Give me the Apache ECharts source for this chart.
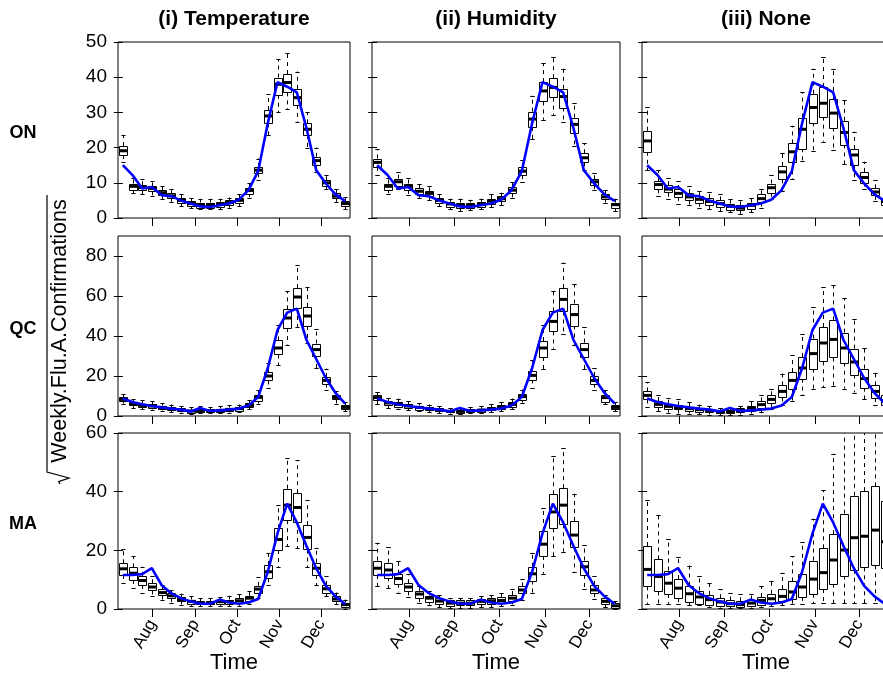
<!DOCTYPE html>
<html>
<head>
<meta charset="utf-8">
<script src="https://cdn.jsdelivr.net/npm/echarts@6/dist/echarts.min.js"></script>
<style>
html,body{margin:0;padding:0;background:#fff;}
#chart{width:883px;height:679px;}
</style>
</head>
<body>
<div id="chart"></div>
<script>
// ---------------- DATA ----------------
const weekIndex = [0,1,2,3,4,5,6,7,8,9,10,11,12,13,14,15,16,17,18,19,20,21,22,23];
const monthTickPos = [3.07, 7.5, 11.79, 16.22, 20.51];
const monthLabels = ['Aug', 'Sep', 'Oct', 'Nov', 'Dec'];
const rowNames = ['ON', 'QC', 'MA'];
const colTitles = ['(i) Temperature', '(ii) Humidity', '(iii) None'];
const yTicks = [[0,10,20,30,40,50], [0,20,40,60,80], [0,20,40,60]];
const yMax = [50, 90, 60];

// observed (blue line) per row
const ON_obs = [15.0,12.2,8.4,8.8,6.5,6.2,5.0,4.1,3.3,3.1,3.6,4.1,5.2,7.9,13.3,27.0,38.6,37.3,35.7,25.5,13.6,9.8,6.7,4.8];
const QC_obs = [8.7,7.0,5.9,5.0,4.3,3.7,3.2,2.3,4.0,2.5,2.8,3.2,3.7,5.3,9.5,24.0,43.0,51.7,53.7,38.0,28.5,19.0,11.5,6.2];
const MA_obs = [11.6,11.6,11.9,13.9,8.2,5.4,3.7,2.6,1.8,1.8,3.2,2.2,1.8,2.2,3.4,12.7,25.8,35.9,29.5,21.5,13.9,7.9,4.3,1.7];

// boxes: [lower whisker, Q1, median, Q3, upper whisker]
const ON_temp = [[16.0,17.9,19.1,20.4,23.6],[7.0,8.2,9.0,9.8,11.4],[6.7,7.9,8.7,9.3,11.0],[6.3,7.6,8.4,9.0,10.5],[5.3,6.5,7.2,7.9,9.1],[4.6,5.5,6.3,7.0,8.2],[3.4,4.4,5.0,5.7,6.7],[2.7,3.4,4.1,4.8,5.7],[2.5,3.1,3.8,4.4,5.5],[2.5,3.1,3.8,4.4,5.5],[2.5,3.2,3.9,4.6,5.5],[2.9,3.6,4.4,5.0,5.8],[3.4,4.4,5.0,5.7,6.7],[5.8,7.0,7.8,8.6,10.0],[10.7,12.7,13.6,14.5,16.9],[23.6,26.9,29.0,30.7,35.2],[30.0,35.0,38.0,39.9,45.2],[31.0,35.7,38.5,40.9,46.9],[27.4,32.1,34.2,36.7,41.6],[19.8,23.6,25.2,26.9,30.0],[13.1,15.2,16.3,17.4,20.0],[8.2,9.1,10.0,10.7,12.2],[4.6,5.5,6.2,7.0,8.2],[2.5,3.4,4.1,4.8,5.9]];
const ON_hum = [[12.2,14.5,15.8,16.9,19.5],[6.7,8.2,9.0,9.8,11.4],[8.2,9.3,10.3,11.2,13.1],[6.5,8.0,9.0,9.8,11.4],[5.7,6.8,7.6,8.4,9.8],[5.0,6.2,7.0,7.6,9.1],[3.4,4.4,5.0,5.7,6.8],[2.5,3.1,4.0,4.6,5.5],[2.0,2.9,3.6,4.4,5.5],[2.2,2.9,3.6,4.4,5.2],[2.5,3.1,4.0,4.6,5.5],[3.1,3.9,4.8,5.4,6.8],[3.6,4.8,5.5,6.2,7.2],[5.7,7.0,7.9,8.8,10.3],[10.3,12.2,13.3,14.5,16.4],[22.4,25.9,28.1,30.2,34.8],[27.9,33.1,36.1,38.6,44.0],[29.3,34.2,37.1,39.7,45.6],[27.2,31.4,34.5,36.7,42.4],[20.5,24.3,26.6,28.5,32.6],[13.6,15.8,17.1,18.4,21.2],[7.9,9.3,10.3,11.0,12.7],[4.4,5.3,6.0,6.8,8.0],[2.0,2.9,3.8,4.4,5.5]];
const ON_none = [[13.6,18.8,21.9,24.8,31.4],[6.3,8.2,9.5,10.5,13.6],[5.3,7.2,8.2,9.3,11.4],[4.1,6.0,7.0,8.2,10.5],[3.6,5.0,6.0,7.1,9.1],[2.9,4.3,5.3,6.2,7.6],[2.5,3.6,4.7,5.7,7.4],[2.0,3.1,4.1,5.0,6.7],[1.7,2.5,3.3,4.1,5.5],[1.1,2.3,2.8,3.6,5.0],[1.7,2.8,3.6,4.4,5.7],[2.9,4.4,5.5,6.7,8.2],[5.3,7.2,8.6,9.8,12.2],[7.6,11.0,13.1,14.8,18.4],[11.0,15.8,18.8,21.2,26.2],[16.2,19.8,25.2,28.5,35.7],[19.0,27.2,31.4,35.3,42.4],[21.7,28.8,32.6,37.2,45.6],[19.3,25.7,29.8,33.8,42.4],[15.2,20.9,24.3,27.6,33.6],[10.7,15.0,17.9,19.6,24.5],[8.2,10.1,11.5,13.1,16.0],[4.8,6.3,7.4,8.4,10.7],[2.3,3.6,4.7,5.4,7.4]];

const QC_temp = [[6.2,7.3,8.3,9.3,10.8],[4.0,5.3,6.2,7.0,8.3],[3.3,4.5,5.3,6.2,7.8],[3.2,4.0,5.0,5.8,7.3],[2.7,3.5,4.3,5.2,6.5],[2.0,2.8,3.7,4.3,5.7],[1.7,2.3,3.2,3.8,5.0],[1.2,1.7,2.5,3.2,4.5],[1.5,2.0,2.8,3.7,5.0],[1.3,1.8,2.7,3.5,4.5],[1.5,2.0,2.8,3.7,4.8],[1.7,2.5,3.3,4.2,5.3],[2.0,2.7,3.7,4.5,5.7],[3.3,4.5,5.3,6.5,7.8],[6.2,7.8,9.3,10.7,12.8],[14.0,17.8,20.0,22.0,26.7],[25.3,30.7,34.0,37.8,45.3],[35.7,44.0,49.0,53.3,62.3],[44.5,54.0,59.5,64.0,75.7],[36.7,45.0,50.0,54.5,64.5],[24.0,30.0,33.2,36.2,43.3],[12.8,16.2,17.8,19.5,23.7],[6.2,8.3,9.3,10.3,12.3],[2.3,3.3,4.3,5.3,7.0]];
const QC_hum = [[5.8,7.8,9.2,10.3,12.0],[4.0,5.3,6.5,7.3,9.0],[3.7,4.7,5.8,7.0,8.7],[2.8,4.0,5.0,5.8,7.3],[2.3,3.3,4.3,5.2,6.5],[1.8,2.8,3.7,4.3,5.7],[1.5,2.3,3.2,3.8,5.0],[1.2,1.7,2.3,2.8,4.0],[1.0,1.7,2.3,3.0,4.0],[1.5,2.0,2.7,3.3,4.5],[1.5,2.0,3.0,3.7,5.0],[1.8,2.8,3.7,4.5,5.8],[2.3,3.3,4.3,5.3,6.8],[3.3,4.7,5.8,7.0,8.7],[6.7,8.3,9.7,11.2,13.2],[14.2,18.3,20.3,22.7,27.8],[23.3,29.5,34.0,37.5,45.3],[33.7,42.3,47.3,52.3,62.3],[41.2,52.3,58.3,64.0,76.7],[35.3,45.3,50.7,56.2,65.8],[23.3,29.5,33.2,36.7,44.5],[12.8,16.2,17.8,20.0,24.0],[6.0,7.3,9.2,10.7,12.8],[2.3,3.3,4.3,5.3,7.0]];
const QC_none = [[4.5,8.3,10.3,12.3,17.0],[2.5,4.5,5.8,7.5,10.7],[1.7,3.7,4.8,6.2,9.2],[1.2,3.2,4.2,5.3,8.3],[1.2,2.7,3.7,4.7,6.8],[0.8,2.3,3.2,3.7,5.7],[0.7,2.0,2.8,3.3,5.0],[0.5,1.2,2.0,2.8,4.0],[0.5,1.2,2.0,2.8,4.0],[0.7,1.8,2.8,3.8,5.0],[1.2,2.7,3.8,5.0,7.3],[2.0,4.0,5.7,7.3,10.3],[3.3,6.2,8.3,10.3,13.7],[5.3,9.2,12.3,15.3,21.2],[7.3,13.7,17.8,22.0,30.3],[10.3,18.7,24.0,29.5,41.2],[13.3,23.7,31.2,38.7,54.5],[14.5,27.3,36.5,44.5,64.5],[15.0,29.2,38.3,47.8,65.3],[13.7,26.7,34.0,41.7,59.0],[11.7,20.7,27.0,33.7,48.7],[8.3,14.2,18.7,23.7,34.0],[5.3,9.0,12.3,15.3,21.5],[2.8,5.3,7.8,10.3,13.7]];

const MA_temp = [[8.8,11.6,13.7,15.6,20.3],[7.1,9.9,12.2,14.2,18.1],[5.6,8.2,9.7,11.3,14.4],[4.3,6.3,7.5,8.8,11.1],[3.2,4.6,5.6,6.8,8.2],[2.2,3.7,4.5,5.4,6.5],[1.5,2.6,3.2,4.1,5.2],[1.1,1.9,2.6,3.2,4.3],[0.9,1.7,2.1,2.7,3.7],[0.9,1.7,2.1,2.7,3.7],[1.1,2.0,2.5,3.2,4.1],[0.9,1.8,2.5,3.2,4.5],[1.1,2.0,2.8,3.7,5.2],[1.8,2.9,3.7,4.5,6.0],[3.7,5.4,6.8,7.9,10.8],[8.2,10.5,12.7,15.0,19.2],[14.4,20.1,23.7,27.5,35.4],[21.5,30.3,35.4,41.0,51.5],[20.7,29.7,34.6,39.5,50.8],[14.2,20.3,24.4,28.6,37.1],[8.2,11.6,13.9,15.8,20.7],[4.3,5.6,6.9,8.2,11.1],[1.8,2.6,3.4,4.3,5.6],[0.0,0.7,1.5,2.2,3.2]];
const MA_hum = [[7.7,11.6,13.9,16.5,22.6],[7.1,10.8,13.3,15.8,21.0],[5.6,8.6,10.4,12.0,16.5],[4.1,6.0,7.5,8.8,12.0],[2.2,3.7,5.1,6.2,7.9],[1.5,2.6,3.7,4.6,6.0],[0.7,1.7,2.7,3.7,4.8],[0.3,1.1,2.0,3.2,3.7],[0.3,1.1,2.0,2.9,3.7],[0.3,1.1,2.0,2.9,3.7],[0.7,1.8,2.6,3.4,4.3],[0.7,1.8,2.8,3.7,4.8],[0.9,2.0,2.9,4.1,5.4],[1.5,2.6,3.7,4.8,6.9],[3.2,5.4,6.5,7.7,10.2],[5.4,9.7,12.0,14.4,19.2],[12.0,18.1,22.1,26.6,34.6],[18.1,27.5,33.1,39.1,52.3],[19.5,28.9,35.4,41.2,54.9],[12.7,21.0,25.2,30.0,39.3],[6.8,11.6,14.4,16.5,21.8],[3.4,5.4,6.5,8.2,11.1],[0.7,1.5,2.6,3.7,4.8],[0.0,0.3,1.1,2.0,2.6]];
const MA_none = [[1.8,7.7,13.5,21.5,37.1],[1.8,6.0,11.1,16.9,32.0],[1.8,5.1,8.8,13.1,23.8],[1.6,3.7,7.1,10.2,17.8],[1.4,2.6,5.2,8.0,14.8],[1.2,2.0,4.1,6.3,11.1],[0.8,1.5,3.2,4.8,8.8],[0.5,1.1,2.4,3.7,6.8],[0.3,0.7,1.8,2.9,5.4],[0.3,0.7,1.5,2.6,5.2],[0.5,1.1,2.0,3.2,5.2],[0.8,1.3,2.9,4.1,7.7],[1.0,2.0,3.5,5.2,9.7],[1.3,2.6,4.3,6.8,12.4],[1.6,3.2,5.8,9.4,18.1],[1.6,4.1,7.5,12.0,22.9],[1.9,5.2,10.2,16.5,30.8],[1.9,6.8,12.4,20.7,40.4],[1.9,8.6,16.7,25.5,52.9],[1.9,11.4,20.1,32.5,66.0],[1.9,13.4,24.3,38.6,70.0],[2.0,14.2,24.8,40.2,68.0],[2.2,14.9,26.9,41.8,72.0],[2.2,13.8,22.9,36.8,65.0]];

const obsByRow = [ON_obs, QC_obs, MA_obs];
const boxesByPanel = [[ON_temp, ON_hum, ON_none], [QC_temp, QC_hum, QC_none], [MA_temp, MA_hum, MA_none]];

// ---------------- LAYOUT ----------------
const FONT = '"Liberation Sans", Arial, Helvetica, sans-serif';
const colLeft = [118, 372, 642];
const colWidth = [232, 248, 248];
const rowTop = [42, 236, 433];
const rowHeight = [176, 180, 176];

function renderBox(params, api) {
  const x = api.value(0);
  const lo = api.value(1), q1 = api.value(2), md = api.value(3), q3 = api.value(4), hi = api.value(5);
  const cs = params.coordSys;
  const yTop = cs.y, yBot = cs.y + cs.height;
  const clampY = (y) => Math.max(yTop, Math.min(yBot, y));
  const band = api.size([1, 0])[0];
  const bw = band * 0.8;
  const cx = Math.round(api.coord([x, md])[0]) + 0.5;
  const yLo = api.coord([x, lo])[1];
  const yQ1 = api.coord([x, q1])[1];
  const yMd = api.coord([x, md])[1];
  const yQ3 = api.coord([x, q3])[1];
  const yHi = api.coord([x, hi])[1];
  const dash = { stroke: '#000', lineWidth: 1, lineDash: [4, 4] };
  const solid = { stroke: '#000', lineWidth: 1 };
  const cw = bw * 0.27;
  const children = [];
  children.push({ type: 'line', shape: { x1: cx, y1: yQ3, x2: cx, y2: clampY(yHi) }, style: dash });
  children.push({ type: 'line', shape: { x1: cx, y1: yQ1, x2: cx, y2: clampY(yLo) }, style: dash });
  if (yHi >= yTop) children.push({ type: 'line', shape: { x1: cx - cw, y1: Math.round(yHi) + 0.5, x2: cx + cw, y2: Math.round(yHi) + 0.5 }, style: solid });
  if (yLo <= yBot) children.push({ type: 'line', shape: { x1: cx - cw, y1: Math.round(yLo) + 0.5, x2: cx + cw, y2: Math.round(yLo) + 0.5 }, style: solid });
  const top = clampY(yQ3);
  const half = Math.round(bw / 2);
  children.push({ type: 'rect', shape: { x: cx - half, y: Math.round(top) + 0.5, width: half * 2, height: Math.round(clampY(yQ1) - top) }, style: { fill: '#fff', stroke: '#000', lineWidth: 1 } });
  children.push({ type: 'line', shape: { x1: cx - half, y1: yMd, x2: cx + half, y2: yMd }, style: { stroke: '#000', lineWidth: 3 } });
  return { type: 'group', children };
}

const grids = [], xAxes = [], yAxes = [], series = [];
for (let r = 0; r < 3; r++) {
  for (let c = 0; c < 3; c++) {
    const gi = r * 3 + c;
    grids.push({ left: colLeft[c], top: rowTop[r], width: colWidth[c], height: rowHeight[r], show: true, borderColor: '#000', borderWidth: 1, backgroundColor: 'transparent', containLabel: false, outerBoundsMode: 'none' });
    xAxes.push({
      gridIndex: gi, type: 'value', min: -0.5, max: 23.5,
      axisLine: { show: false }, splitLine: { show: false },
      axisTick: { show: true, length: 8, lineStyle: { color: '#000', width: 1 }, customValues: monthTickPos },
      axisLabel: {
        show: r === 2, customValues: monthTickPos, rotate: 60, margin: 12,
        fontSize: 17, color: '#000', fontFamily: FONT,
        formatter: (v) => { const k = monthTickPos.findIndex(p => Math.abs(p - v) < 1e-6); return k >= 0 ? monthLabels[k] : ''; }
      }
    });
    yAxes.push({
      gridIndex: gi, type: 'value', min: 0, max: yMax[r],
      axisLine: { show: false }, splitLine: { show: false },
      axisTick: { show: true, length: 9, lineStyle: { color: '#000', width: 1 }, customValues: yTicks[r] },
      axisLabel: { show: c === 0, customValues: yTicks[r], margin: 11, fontSize: 19, color: '#000', fontFamily: FONT }
    });
    series.push({
      type: 'custom', xAxisIndex: gi, yAxisIndex: gi, renderItem: renderBox, silent: true, z: 2,
      encode: { x: 0, y: [1, 2, 3, 4, 5] },
      data: boxesByPanel[r][c].map((b, i) => [weekIndex[i]].concat(b))
    });
    series.push({
      type: 'line', xAxisIndex: gi, yAxisIndex: gi, silent: true, z: 5, symbol: 'none', showSymbol: false,
      lineStyle: { color: '#0000ff', width: 2.6 },
      data: obsByRow[r].map((v, i) => [weekIndex[i], v])
    });
  }
}

const graphics = [];
for (let c = 0; c < 3; c++) {
  const cx = colLeft[c] + colWidth[c] / 2;
  graphics.push({ type: 'text', x: cx, y: 19, style: { text: colTitles[c], font: 'bold 21px ' + FONT, fill: '#000', align: 'center', verticalAlign: 'middle' } });
  graphics.push({ type: 'text', x: cx, y: 663, style: { text: 'Time', font: '22px ' + FONT, fill: '#000', align: 'center', verticalAlign: 'middle' } });
}
for (let r = 0; r < 3; r++) {
  graphics.push({ type: 'text', x: 23, y: rowTop[r] + rowHeight[r] / 2 + 3, style: { text: rowNames[r], font: 'bold 18px ' + FONT, fill: '#000', align: 'center', verticalAlign: 'middle' } });
}
graphics.push({ type: 'text', x: 60, y: 331, rotation: Math.PI / 2, style: { text: 'Weekly.Flu.A.Confirmations', font: '21.5px ' + FONT, fill: '#000', align: 'center', verticalAlign: 'middle' } });
graphics.push({ type: 'polyline', shape: { points: [[60, 484], [58.6, 481.6], [69, 478], [47, 472], [47, 195]] }, style: { stroke: '#000', lineWidth: 1.2, fill: null } });

const chart = echarts.init(document.getElementById('chart'), null, { renderer: 'canvas' });
chart.setOption({
  animation: false,
  backgroundColor: '#fff',
  grid: grids,
  xAxis: xAxes,
  yAxis: yAxes,
  series: series,
  graphic: graphics
});
</script>
</body>
</html>
